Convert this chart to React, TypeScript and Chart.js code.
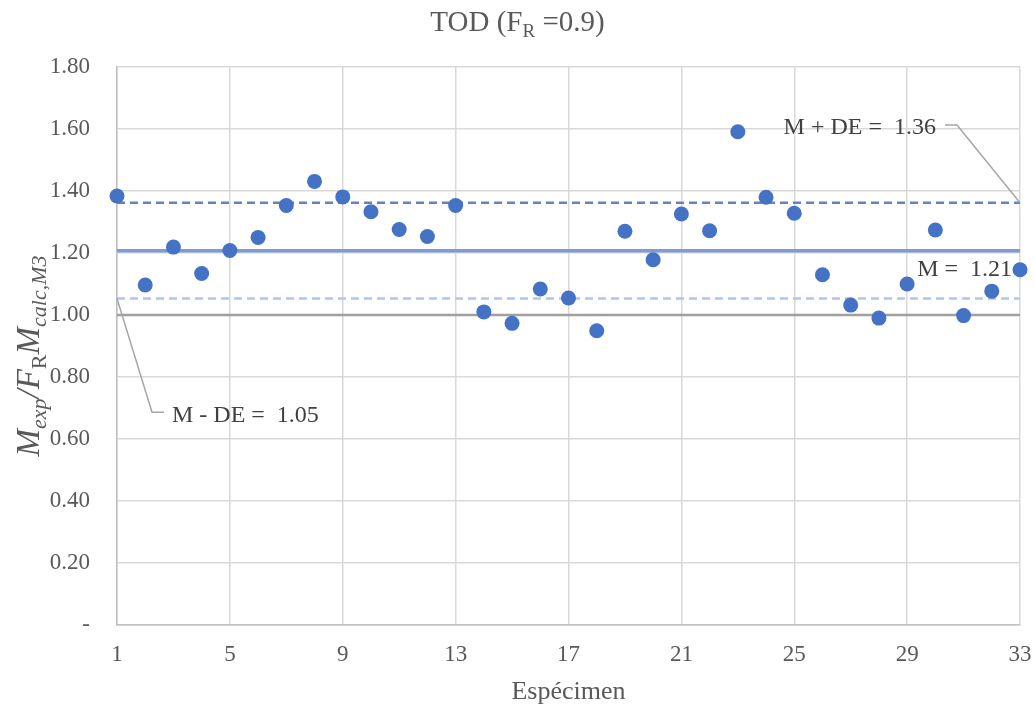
import React, { useEffect, useRef } from "react";
import { Chart, registerables } from "chart.js";

Chart.register(...registerables);

const specimens: number[] = Array.from({ length: 33 }, (_, i) => i + 1);
const ratios: number[] = [
  1.384, 1.097, 1.219, 1.134, 1.208, 1.25, 1.353, 1.431, 1.381, 1.333, 1.276,
  1.253, 1.353, 1.01, 0.973, 1.084, 1.055, 0.949, 1.27, 1.178, 1.326, 1.272,
  1.591, 1.38, 1.328, 1.13, 1.032, 0.99, 1.1, 1.274, 0.998, 1.077, 1.146,
];
const meanValue = 1.207;
const meanPlusSd = 1.362;
const meanMinusSd = 1.053;
const unityValue = 1.0;
const xTicks: number[] = [1, 5, 9, 13, 17, 21, 25, 29, 33];
const yTickLabels: string[] = ["-", "0.20", "0.40", "0.60", "0.80", "1.00", "1.20", "1.40", "1.60", "1.80"];

const SERIF = "'Liberation Serif', 'Times New Roman', serif";

const hLine = (v: number) => [
  { x: specimens[0], y: v },
  { x: specimens[specimens.length - 1], y: v },
];

const textPlugin = {
  id: "customText",
  afterDraw(chart: any) {
    const { ctx, chartArea, scales } = chart;
    const xs = scales.x;
    const ys = scales.y;
    ctx.save();
    // Title
    ctx.fillStyle = "#595959";
    ctx.textBaseline = "alphabetic";
    const tMain = "TOD (F";
    const tSub = "R";
    const tRest = " =0.9)";
    ctx.font = `29px ${SERIF}`;
    const w1 = ctx.measureText(tMain).width;
    const w3 = ctx.measureText(tRest).width;
    ctx.font = `19px ${SERIF}`;
    const w2 = ctx.measureText(tSub).width;
    let tx = chart.width / 2 - (w1 + w2 + w3) / 2;
    const ty = 31;
    ctx.font = `29px ${SERIF}`;
    ctx.textAlign = "left";
    ctx.fillText(tMain, tx, ty);
    tx += w1;
    ctx.font = `19px ${SERIF}`;
    ctx.fillText(tSub, tx, ty + 6);
    tx += w2;
    ctx.font = `29px ${SERIF}`;
    ctx.fillText(tRest, tx, ty);

    // X axis title
    ctx.font = `26px ${SERIF}`;
    ctx.textAlign = "center";
    ctx.fillText("Espécimen", (chartArea.left + chartArea.right) / 2, chartArea.bottom + 74);

    // Y axis title (rich text rotated)
    const segs = [
      { t: "M", f: `italic 33px ${SERIF}`, dy: 0 },
      { t: "exp", f: `italic 22px ${SERIF}`, dy: 7 },
      { t: "/F", f: `italic 33px ${SERIF}`, dy: 0 },
      { t: "R", f: `22px ${SERIF}`, dy: 7 },
      { t: "M", f: `italic 33px ${SERIF}`, dy: 0 },
      { t: "calc,M3", f: `italic 22px ${SERIF}`, dy: 7 },
    ];
    let total = 0;
    const widths = segs.map((s) => {
      ctx.font = s.f;
      const w = ctx.measureText(s.t).width;
      total += w;
      return w;
    });
    ctx.translate(39, (chartArea.top + chartArea.bottom) / 2 + 10);
    ctx.rotate(-Math.PI / 2);
    ctx.textAlign = "left";
    let px = -total / 2;
    segs.forEach((s, i) => {
      ctx.font = s.f;
      ctx.fillText(s.t, px, s.dy);
      px += widths[i];
    });
    ctx.setTransform(1, 0, 0, 1, 0, 0);
    ctx.restore();

    // Annotations
    ctx.save();
    ctx.fillStyle = "#404040";
    ctx.strokeStyle = "#A6A6A6";
    ctx.lineWidth = 1.5;
    ctx.font = `24px ${SERIF}`;
    ctx.textBaseline = "middle";

    // M + DE
    const xEnd = xs.getPixelForValue(specimens[specimens.length - 1]);
    const yPlus = ys.getPixelForValue(meanPlusSd);
    const elbowY = ys.getPixelForValue(1.613);
    ctx.beginPath();
    ctx.moveTo(xEnd, yPlus);
    ctx.lineTo(xEnd - 63, elbowY);
    ctx.lineTo(xEnd - 75, elbowY);
    ctx.stroke();
    ctx.textAlign = "right";
    ctx.fillText(`M + DE =  ${meanPlusSd.toFixed(2)}`, xEnd - 84, elbowY + 3);

    // M
    ctx.fillText(`M =  ${meanValue.toFixed(2)}`, xEnd - 8, ys.getPixelForValue(1.147));

    // M - DE
    const xStart = xs.getPixelForValue(specimens[0]);
    const yMinus = ys.getPixelForValue(meanMinusSd);
    const elbow2 = ys.getPixelForValue(0.686);
    ctx.beginPath();
    ctx.moveTo(xStart, yMinus);
    ctx.lineTo(xStart + 35, elbow2);
    ctx.lineTo(xStart + 47, elbow2);
    ctx.stroke();
    ctx.textAlign = "left";
    ctx.fillText(`M - DE =  ${meanMinusSd.toFixed(2)}`, xStart + 55, elbow2 + 3);
    ctx.restore();
  },
};

export default function App() {
  const ref = useRef<HTMLCanvasElement | null>(null);
  useEffect(() => {
    if (!ref.current) return;
    const chart = new Chart(ref.current, {
      type: "scatter",
      data: {
        datasets: [
          {
            label: "Mexp/FR Mcalc",
            data: specimens.map((x, i) => ({ x, y: ratios[i] })),
            backgroundColor: "#4472C4",
            borderColor: "#4472C4",
            pointRadius: 7.5,
            borderWidth: 0,
            clip: false,
          },
          {
            label: "M+DE",
            data: hLine(meanPlusSd),
            showLine: true,
            borderColor: "#6583BF",
            borderWidth: 2.5,
            borderDash: [8, 5],
            pointRadius: 0,
          },
          {
            label: "M",
            data: hLine(meanValue),
            showLine: true,
            borderColor: "#7E9BD4",
            borderWidth: 3.5,
            pointRadius: 0,
          },
          {
            label: "M-DE",
            data: hLine(meanMinusSd),
            showLine: true,
            borderColor: "#B0C6EA",
            borderWidth: 2.5,
            borderDash: [8, 5],
            pointRadius: 0,
          },
          {
            label: "1.0",
            data: hLine(unityValue),
            showLine: true,
            borderColor: "#A0A0A0",
            borderWidth: 2.5,
            pointRadius: 0,
          },
        ],
      },
      plugins: [textPlugin],
      options: {
        animation: false,
        responsive: true,
        maintainAspectRatio: false,
        layout: { padding: { top: 67, right: 15, left: 0, bottom: 0 } },
        plugins: { legend: { display: false }, tooltip: { enabled: false }, title: { display: false } },
        scales: {
          x: {
            type: "linear",
            min: 1,
            max: 33,
            afterBuildTicks: (scale: any) => {
              scale.ticks = xTicks.map((v) => ({ value: v }));
            },
            afterFit: (scale: any) => {
              scale.height = 83;
              scale.paddingLeft = 0;
              scale.paddingRight = 0;
            },
            ticks: {
              autoSkip: false,
              padding: 16,
              color: "#595959",
              font: { family: SERIF, size: 23 },
              maxRotation: 0,
            },
            grid: { color: "#D9D9D9", lineWidth: 1.5, drawTicks: false },
            border: { color: "#BFBFBF", width: 1.5 },
          },
          y: {
            min: 0,
            max: 1.8,
            ticks: {
              stepSize: 0.2,
              padding: 27,
              color: "#595959",
              font: { family: SERIF, size: 23 },
              callback: (v: any) => yTickLabels[Math.round(Number(v) / 0.2)] ?? "",
            },
            afterFit: (scale: any) => {
              scale.width = 117;
              scale.paddingTop = 0;
              scale.paddingBottom = 0;
            },
            grid: { color: "#D9D9D9", lineWidth: 1.5, drawTicks: false },
            border: { color: "#BFBFBF", width: 1.5 },
          },
        },
      },
    });
    return () => chart.destroy();
  }, []);
  return (
    <div style={{ position: "absolute", left: 0, top: 0, width: 1035, height: 708 }}>
      <canvas ref={ref} />
    </div>
  );
}
